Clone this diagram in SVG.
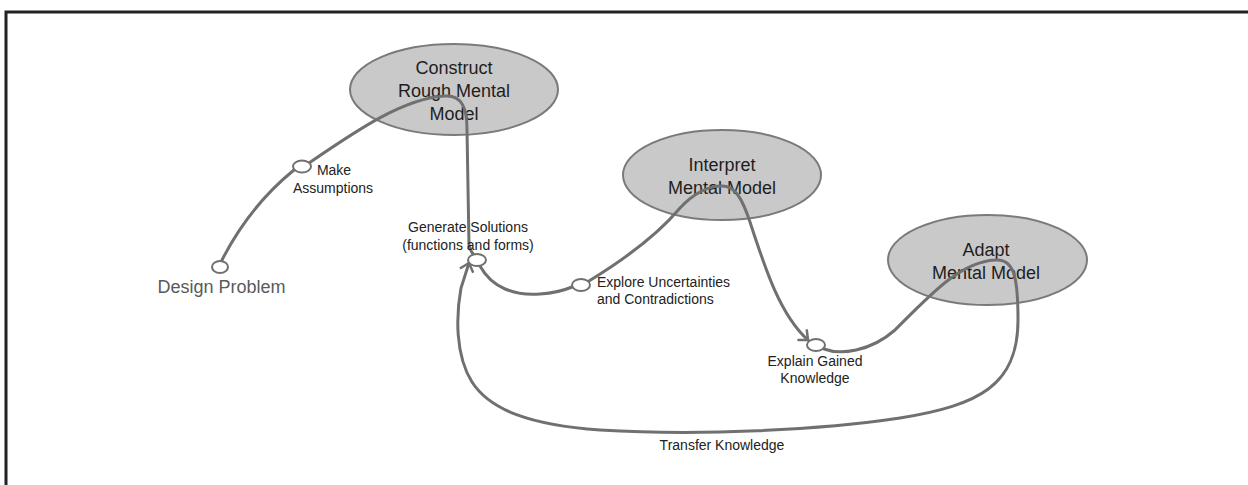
<svg xmlns="http://www.w3.org/2000/svg" width="1248" height="485" viewBox="0 0 1248 485">
<defs>
<style>
.big{fill:#c9c9c9;stroke:#7a7a7a;stroke-width:2}
.nt{font-family:"Liberation Sans",Arial,sans-serif;font-size:18px;fill:#1e1e1e;text-anchor:middle}
.lb{font-family:"Liberation Sans",Arial,sans-serif;font-size:14px;fill:#222;text-anchor:middle}
.con{fill:none;stroke:#707070;stroke-width:3;stroke-linecap:round}
.pt{fill:#fff;stroke:#707070;stroke-width:2}
</style>
<marker id="arr" viewBox="-10 -8 12 16" markerWidth="12" markerHeight="16" markerUnits="userSpaceOnUse" orient="auto" refX="0" refY="0">
<path d="M -8 -7 L 0 0 L -8 7" fill="none" stroke="#707070" stroke-width="2.5"/>
</marker>
</defs>
<rect width="1248" height="485" fill="#fff"/>
<path d="M 6 485 L 6 12 L 1248 12" fill="none" stroke="#222" stroke-width="3"/>

<g id="construct">
<ellipse class="big" cx="454" cy="89.5" rx="104" ry="45.5"/>
<text class="nt" x="454" y="74">Construct</text>
<text class="nt" x="454" y="97">Rough  Mental</text>
<text class="nt" x="454" y="119.5">Model</text>
</g>
<g id="interpret">
<ellipse class="big" cx="722" cy="175" rx="99" ry="45"/>
<text class="nt" x="722" y="171">Interpret</text>
<text class="nt" x="722" y="193.5">Mental  Model</text>
</g>
<g id="adapt">
<ellipse class="big" cx="987.5" cy="260" rx="99.5" ry="45"/>
<text class="nt" x="986" y="255.5">Adapt</text>
<text class="nt" x="986" y="278.5">Mental  Model</text>
</g>

<g id="connectors">
<path class="con" d="M 221 262 C 238 228 262 196 294 170"/>
<path class="con" d="M 309 163 C 360 128 405 98 445 96 C 462 95 467 108 467 130 L 469 245 C 470 250 472 253 474 255"/>
<path class="con" d="M 480 266 C 492 288 515 296 540 294 C 555 293 565 290 572 287"/>
<path class="con" d="M 589 281 C 620 262 655 238 680 208 C 695 192 710 186 722 186 C 735 186 742 198 750 222 C 765 268 780 315 808 340" marker-end="url(#arr)"/>
<path class="con" d="M 824 349 C 840 355 870 352 895 330 C 930 295 960 262 995 260 C 1015 258 1018 280 1018 320 C 1018 385 980 405 900 418 C 820 430 700 436 600 430 C 530 425 490 410 472 382 C 455 355 456 315 461 288 L 469 263" marker-end="url(#arr)"/>
</g>

<g id="design-problem">
<ellipse class="pt" cx="220" cy="267" rx="8" ry="6"/>
<text x="221.5" y="293" font-family="Liberation Sans, Arial, sans-serif" font-size="18" fill="#5a5a5a" text-anchor="middle">Design  Problem</text>
</g>
<g id="make-assumptions">
<ellipse class="pt" cx="302" cy="166.5" rx="9" ry="6"/>
<text class="lb" x="334" y="175">Make</text>
<text class="lb" x="333" y="193">Assumptions</text>
</g>
<g id="generate-solutions">
<ellipse class="pt" cx="477" cy="260" rx="9" ry="6"/>
<text class="lb" x="468" y="232">Generate  Solutions</text>
<text class="lb" x="468" y="250">(functions  and  forms)</text>
</g>
<g id="explore">
<ellipse class="pt" cx="581" cy="285" rx="9" ry="6"/>
<text class="lb" x="597" y="287" text-anchor="start" style="text-anchor:start">Explore  Uncertainties</text>
<text class="lb" x="597" y="304" style="text-anchor:start">and  Contradictions</text>
</g>
<g id="explain">
<ellipse class="pt" cx="816" cy="345" rx="9" ry="6"/>
<text class="lb" x="815" y="366">Explain  Gained</text>
<text class="lb" x="815" y="383">Knowledge</text>
</g>
<g id="transfer-label">
<text class="lb" x="722" y="450">Transfer  Knowledge</text>
</g>
</svg>
